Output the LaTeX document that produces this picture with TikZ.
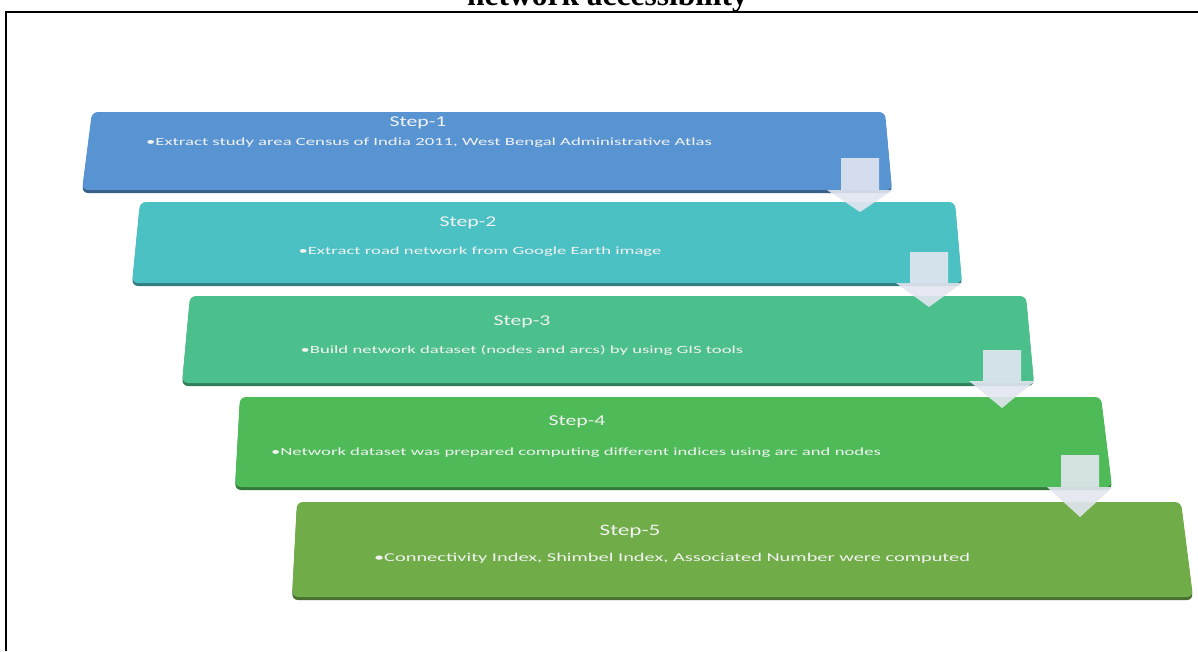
\documentclass[tikz,border=0pt]{standalone}
\usepackage{fontspec}
\newfontfamily\stepfont[FakeStretch=1.45]{Carlito}
\newfontfamily\bulletfont[FakeStretch=1.7]{Carlito}
\newfontfamily\capfont{Liberation Serif}
\definecolor{bA}{RGB}{88,148,210}
\definecolor{bB}{RGB}{75,193,195}
\definecolor{bC}{RGB}{76,192,140}
\definecolor{bD}{RGB}{78,186,88}
\definecolor{bE}{RGB}{112,173,72}
\definecolor{arrowcol}{RGB}{226,230,240}
\newcommand\drawstep[7]{%
  \fill[#1!65!black, rounded corners=6pt] (#2,#4+3) -- (#3,#4+3) -- (#6,#7+3) -- (#5,#7+3) -- cycle;
  \fill[#1, rounded corners=6pt] (#2,#4) -- (#3,#4) -- (#6,#7) -- (#5,#7) -- cycle;
}
\newcommand\drawdownarrow[4]{%
  \fill[arrowcol, opacity=.9] (#1-19,#2) -- (#1+19,#2) -- (#1+19,#3) -- (#1+33,#3) -- (#1,#4) -- (#1-33,#3) -- (#1-19,#3) -- cycle;
}
\tikzset{
  steptitle/.style={text=white!90!gray, font=\stepfont\fontsize{15}{16}\selectfont, inner sep=0pt},
  stepbullet/.style={text=white!90!gray, font=\bulletfont\fontsize{11}{12}\selectfont, inner sep=0pt},
}
\begin{document}
\begin{tikzpicture}[x=1pt,y=-1pt]
\useasboundingbox (0,0) rectangle (1198,651);
\node[anchor=base, inner sep=0pt, font=\capfont\bfseries\fontsize{31.5}{32}\selectfont] (title) at (607.5,5) {network accessibility};
\draw[line width=2pt] (6,651) -- (6,12) -- (1198,12);

\drawstep{bA}{92}{885}{112}{82}{892}{190}
\drawstep{bB}{140}{955}{202}{132}{962}{283}
\drawstep{bC}{190}{1026}{296}{182}{1034}{383}
\drawstep{bD}{240}{1101}{397}{235}{1112}{487}
\drawstep{bE}{297}{1181}{502}{292}{1193}{597}

\node[steptitle] (t1) at (418,123) {Step-1};
\node[stepbullet] (d1) at (429,143) {•Extract study area Census of India 2011, West Bengal Administrative Atlas};
\node[steptitle] (t2) at (468,223) {Step-2};
\node[stepbullet] (d2) at (480,252) {•Extract road network from Google Earth image};
\node[steptitle] (t3) at (522,322) {Step-3};
\node[stepbullet] (d3) at (522,350) {•Build network dataset (nodes and arcs) by using GIS tools};
\node[steptitle] (t4) at (577,422) {Step-4};
\node[stepbullet] (d4) at (576,453) {•Network dataset was prepared computing different indices using arc and nodes};
\node[steptitle, font=\stepfont\fontsize{16}{17}\selectfont] (t5) at (630,532) {Step-5};
\node[stepbullet, font=\bulletfont\fontsize{12}{13}\selectfont] (d5) at (672,558) {•Connectivity Index, Shimbel Index, Associated Number were computed};

\drawdownarrow{860}{158}{190}{212}
\drawdownarrow{929}{252}{283}{307}
\drawdownarrow{1002}{350}{381}{408}
\drawdownarrow{1080}{455}{487}{517}
\end{tikzpicture}
\end{document}
